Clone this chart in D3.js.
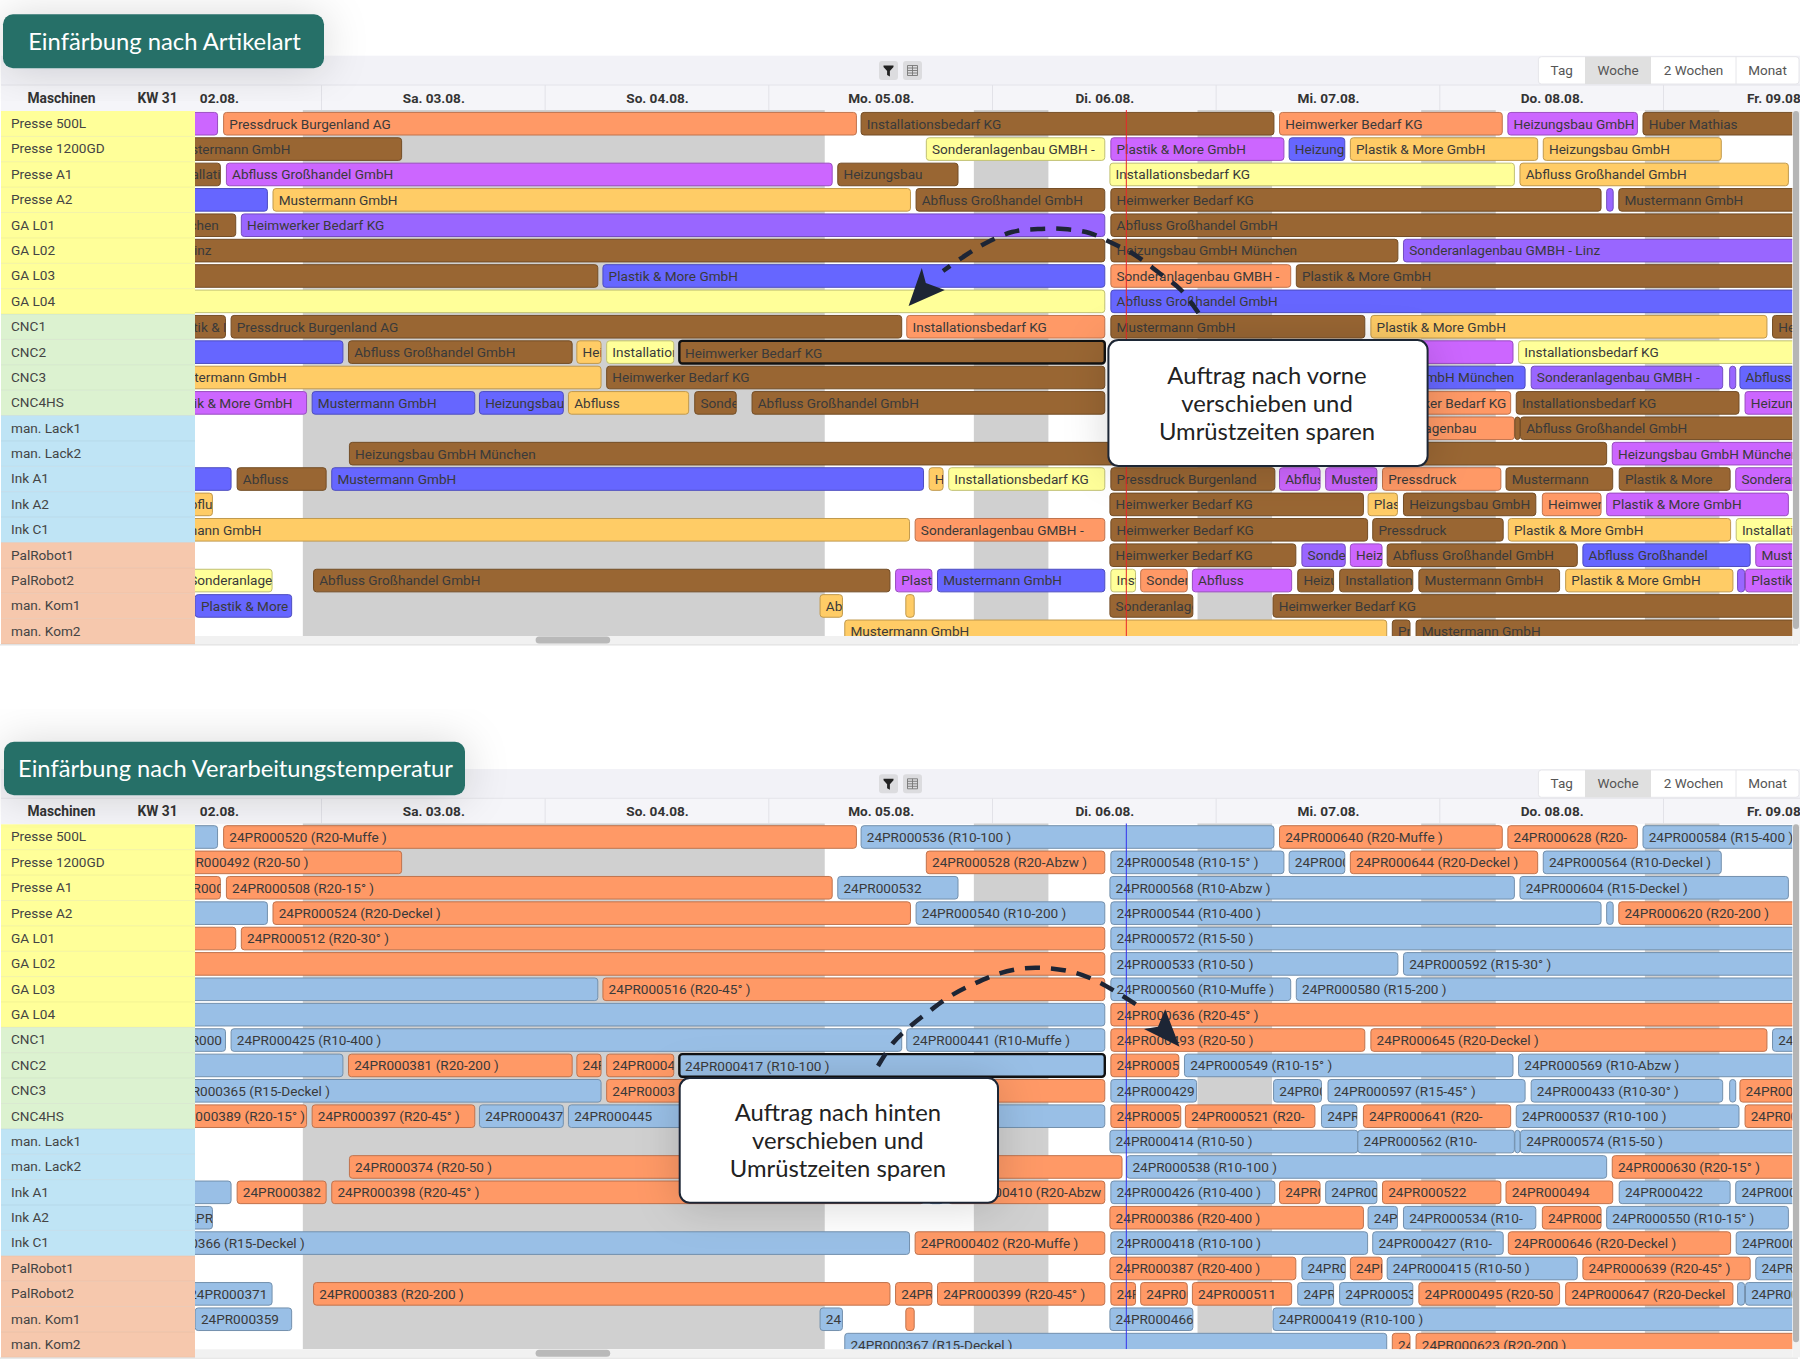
<!DOCTYPE html>
<html lang="de"><head><meta charset="utf-8"><title>Einfärbung</title>
<script src="https://cdn.jsdelivr.net/npm/d3@7/dist/d3.min.js"></script>
<style>html,body{margin:0;padding:0;background:#fff}svg{display:block}text{font-family:Roboto,sans-serif}</style>
</head><body><svg id="c" width="1800" height="1368"></svg>
<script>
const machines=["Presse 500L","Presse 1200GD","Presse A1","Presse A2","GA L01","GA L02","GA L03","GA L04","CNC1","CNC2","CNC3","CNC4HS","man. Lack1","man. Lack2","Ink A1","Ink A2","Ink C1","PalRobot1","PalRobot2","man. Kom1","man. Kom2"];
const machineGroups="y y y y y y y y g g g g l l l l l s s s s".split(" ");
const groupFills={y:"#ffff99",g:"#dcf2d0",l:"#bfe4f5",s:"#f6c8ad"};
const dayLabels=["Fr. 02.08.","Sa. 03.08.","So. 04.08.","Mo. 05.08.","Di. 06.08.","Mi. 07.08.","Do. 08.08.","Fr. 09.08."];
const dayCentres=[12,36,60,84,108,132,156,180];
const dayEdges=[24,48,72,96,120,144,168];
const nonWorking=[[22,78],[94,102],[118,126],[142,150],[166,174]];
const viewButtons=["Tag","Woche","2 Wochen","Monat"];
const kindFills={p:"#cc66ff",o:"#ff9966",n:"#996633",b:"#6666ff",v:"#9966ff",y:"#ffff99",a:"#ffcc66",t:"#99bfe6"};

// start and end of each order, hours since Fr. 02.08. 00:00, one list per machine
const spans=[
[[5,12.85],[13.5,81.4],[81.9,126.2],[126.8,150.7],[151.3,165.2],[165.8,190]],
[[7.3,32.6],[88.9,108.05],[108.7,127.27],[127.83,133.8],[134.4,154.5],[155.1,174.2]],
[[7,13.15],[13.8,78.8],[79.4,92.3],[108.6,152],[152.6,181.4]],
[[5,18.2],[18.8,87.2],[87.8,108.05],[108.7,161.3],[161.9,162.6],[163.2,190]],
[[-7,14.8],[15.4,108.05],[108.7,190]],
[[-8.9,108.05],[108.7,139.5],[140.1,190]],
[[-5,53.65],[54.2,108.05],[108.7,128],[128.6,190]],
[[-5,108.05],[108.7,190]],
[[6.8,13.7],[14.3,86.26],[86.8,108.05],[108.7,135.95],[136.6,179.1],[179.7,190]],
[[5,26.3],[26.9,50.9],[51.4,54],[54.6,61.8],[62.4,108.05],[108.7,116],[116.6,151.85],[152.45,190]],
[[6.9,54],[54.6,108.05],[108.7,117.9],[126.16,131.3],[132,153.15],[153.8,174.35],[175.1,175.75],[176.2,190]],
[[6.4,22.4],[23,40.45],[40.95,49.95],[50.5,63.4],[64.05,68.5],[70.2,108.05],[108.7,116.2],[116.7,130.6],[131.3,135.1],[135.8,151.6],[152.2,176.1],[176.75,190]],
[[108.6,135.2],[135.2,152],[152.05,152.6],[152.65,190]],
[[27,109.9],[110.4,161.9],[162.5,190]],
[[5,14.3],[14.95,24.5],[25.1,88.6],[89.2,90.7],[91.3,108.05],[108.7,126.3],[126.8,131.15],[131.75,137.25],[137.85,150.55],[151.1,162.55],[163.25,175.15],[175.75,190]],
[[8.3,12.3],[108.6,135.8],[136.3,139.45],[140.1,154.3],[155,161.3],[161.9,181.4]],
[[4.2,87.1],[87.7,108.05],[108.7,136.25],[136.8,150.8],[151.35,175.2],[175.8,190]],
[[108.6,128.55],[129.2,133.85],[134.4,137.8],[138.35,158.75],[159.35,177.3],[177.9,190]],
[[9.2,18.7],[23.15,85],[85.6,89.5],[90.1,108.05],[108.7,111.35],[111.9,116.9],[117.45,128.1],[128.75,132.6],[133.25,141.1],[141.75,156.85],[157.5,175.45],[175.95,176.7],[176.8,190]],
[[10.45,20.8],[77.5,79.9],[86.7,87.6],[108.6,117.5],[126.1,190]],
[[80.15,138.3],[138.9,140.8],[141.45,190]]
];
const artikelKinds=["p o n o p n","n y p b a a","n p n y a","b a n n v n","n v n","n n v","n b o n","y b","n n o n a n","b n a y n n p y","a n n n b v v b","p b b a n n n n n o n p","n o n n","n n p","b n b a y n p p o n n p","a n a n o p","a o n n a y","n v p n b p","y n p b y o p n n n a v p","b a a n n","a n n"];
const artikelLabels=[
["","Pressdruck Burgenland AG","Installationsbedarf KG","Heimwerker Bedarf KG","Heizungsbau GmbH","Huber Mathias"],
["Mustermann GmbH","Sonderanlagenbau GMBH -","Plastik & More GmbH","Heizungsbau","Plastik & More GmbH","Heizungsbau GmbH"],
["Installationsbedarf KG","Abfluss Großhandel GmbH","Heizungsbau","Installationsbedarf KG","Abfluss Großhandel GmbH"],
["","Mustermann GmbH","Abfluss Großhandel GmbH","Heimwerker Bedarf KG","","Mustermann GmbH"],
["Heizungsbau GmbH München","Heimwerker Bedarf KG","Abfluss Großhandel GmbH"],
["Sonderanlagenbau GMBH - Linz","Heizungsbau GmbH München","Sonderanlagenbau GMBH - Linz"],
["","Plastik & More GmbH","Sonderanlagenbau GMBH -","Plastik & More GmbH"],
["","Abfluss Großhandel GmbH"],
["Plastik & More GmbH","Pressdruck Burgenland AG","Installationsbedarf KG","Mustermann GmbH","Plastik & More GmbH","Heizungsbau"],
["","Abfluss Großhandel GmbH","Heizungsbau","Installationsbedarf KG","Heimwerker Bedarf KG","","","Installationsbedarf KG"],
["Mustermann GmbH","Heimwerker Bedarf KG","","","Heizungsbau GmbH München","Sonderanlagenbau GMBH -","","Abfluss Großhandel GmbH"],
["Plastik & More GmbH","Mustermann GmbH","Heizungsbau","Abfluss","Sonderanlagenbau","Abfluss Großhandel GmbH","","","","Heimwerker Bedarf KG","Installationsbedarf KG","Heizungsbau"],
["","Sonderanlagenbau","","Abfluss Großhandel GmbH"],
["Heizungsbau GmbH München","","Heizungsbau GmbH München"],
["","Abfluss","Mustermann GmbH","Heizungsbau","Installationsbedarf KG","Pressdruck Burgenland","Abfluss","Mustermann","Pressdruck","Mustermann","Plastik & More","Sonderanlagenbau"],
["Abfluss","Heimwerker Bedarf KG","Plastik","Heizungsbau GmbH","Heimwerker","Plastik & More GmbH"],
["Mustermann GmbH","Sonderanlagenbau GMBH -","Heimwerker Bedarf KG","Pressdruck","Plastik & More GmbH","Installationsbedarf KG"],
["Heimwerker Bedarf KG","Sonderanlagenbau","Heizungsbau","Abfluss Großhandel GmbH","Abfluss Großhandel","Mustermann"],
["Sonderanlagenbau","Abfluss Großhandel GmbH","Plastik","Mustermann GmbH","Installationsbedarf","Sonderanlagenbau","Abfluss","Heizungsbau","Installationsbedarf","Mustermann GmbH","Plastik & More GmbH","","Plastik"],
["Plastik & More","Abfluss","","Sonderanlagenbau","Heimwerker Bedarf KG"],
["Mustermann GmbH","Pressdruck","Mustermann GmbH"]
];
const tempKinds=["t o t o o t","o o t t o t","o o t t t","t o t t t o","o o t","o t t","t o t t","t o","t t t o o t","t o o o t o t t","t o t t t t t o","o o t t t t o o t o t o","t t t t","o t o","t o o t o t o t o o t t","t o t t o t","t o t t o t","o t o t o t","t o o o o o o t t o o t t","t t o t t","t o o"];
const tempLabels=[
["","24PR000520 (R20-Muffe )","24PR000536 (R10-100 )","24PR000640 (R20-Muffe )","24PR000628 (R20-","24PR000584 (R15-400 )"],
["24PR000492 (R20-50 )","24PR000528 (R20-Abzw )","24PR000548 (R10-15° )","24PR000","24PR000644 (R20-Deckel )","24PR000564 (R10-Deckel )"],
["24PR000","24PR000508 (R20-15° )","24PR000532","24PR000568 (R10-Abzw )","24PR000604 (R15-Deckel )"],
["","24PR000524 (R20-Deckel )","24PR000540 (R10-200 )","24PR000544 (R10-400 )","","24PR000620 (R20-200 )"],
["","24PR000512 (R20-30° )","24PR000572 (R15-50 )"],
["","24PR000533 (R10-50 )","24PR000592 (R15-30° )"],
["","24PR000516 (R20-45° )","24PR000560 (R10-Muffe )","24PR000580 (R15-200 )"],
["","24PR000636 (R20-45° )"],
["24PR000","24PR000425 (R10-400 )","24PR000441 (R10-Muffe )","24PR000493 (R20-50 )","24PR000645 (R20-Deckel )","24PR000"],
["","24PR000381 (R20-200 )","24PR000","24PR0004","24PR000417 (R10-100 )","24PR0005","24PR000549 (R10-15° )","24PR000569 (R10-Abzw )"],
["24PR000365 (R15-Deckel )","24PR0003","24PR000429","24PR000","24PR000597 (R15-45° )","24PR000433 (R10-30° )","","24PR000"],
["24PR000389 (R20-15° )","24PR000397 (R20-45° )","24PR000437","24PR000445","","","24PR0005","24PR000521 (R20-","24PR","24PR000641 (R20-","24PR000537 (R10-100 )","24PR000"],
["24PR000414 (R10-50 )","24PR000562 (R10-","","24PR000574 (R15-50 )"],
["24PR000374 (R20-50 )","24PR000538 (R10-100 )","24PR000630 (R20-15° )"],
["","24PR000382","24PR000398 (R20-45° )","","24PR000410 (R20-Abzw )","24PR000426 (R10-400 )","24PR000","24PR000","24PR000522","24PR000494","24PR000422","24PR000"],
["24PR000","24PR000386 (R20-400 )","24PR","24PR000534 (R10-","24PR000","24PR000550 (R10-15° )"],
["24PR000366 (R15-Deckel )","24PR000402 (R20-Muffe )","24PR000418 (R10-100 )","24PR000427 (R10-","24PR000646 (R20-Deckel )","24PR000"],
["24PR000387 (R20-400 )","24PR000","24PR","24PR000415 (R10-50 )","24PR000639 (R20-45° )","24PR"],
["24PR000371","24PR000383 (R20-200 )","24PR000","24PR000399 (R20-45° )","24PR","24PR000","24PR000511","24PR","24PR00053","24PR000495 (R20-50","24PR000647 (R20-Deckel","","24PR000"],
["24PR000359","24","","24PR000466","24PR000419 (R10-100 )"],
["24PR000367 (R15-Deckel )","24PR","24PR000623 (R20-200 )"]
];
const selectedOrder={row:9,index:4};

const svg=d3.select("#c");
const defs=svg.append("defs");
const sh=defs.append("filter").attr("id","soft").attr("x","-30%").attr("y","-60%").attr("width","160%").attr("height","220%");
sh.append("feDropShadow").attr("dx",0).attr("dy",2).attr("stdDeviation",22).attr("flood-color","#000").attr("flood-opacity",.16);

const x=d3.scaleLinear().domain([0,168]).range([97.8,1663.5]);
const dark="#1d2535";

function chart(id,dy,labels,kinds,now,arrowPath,headPath,calloutBox,calloutLines,title,titleBox,titleSize){
  const g=svg.append("g").attr("transform",`translate(0,${dy})`);
  const y=d3.scaleBand().domain(machines).range([111,644]);
  g.append("rect").attr("x",1).attr("y",55.7).attr("width",1799).attr("height",29.3).attr("fill","#f2f2f7");
  g.append("rect").attr("x",1).attr("y",85).attr("width",1799).attr("height",26).attr("fill","#f5f5f9");
  g.append("line").attr("x1",1).attr("x2",1800).attr("y1",85).attr("y2",85).attr("stroke","#e4e4ea");
  g.append("rect").attr("x",1).attr("y",111).attr("width",1799).attr("height",534.5).attr("fill","#fff");
  g.append("rect").attr("x",0).attr("y",644).attr("width",1798).attr("height",1.6).attr("fill","#e6e6e6");

  const cid="clip"+id;
  defs.append("clipPath").attr("id",cid).append("rect").attr("x",195).attr("y",110).attr("width",1597.5).attr("height",526);
  const hid="hclip"+id;
  defs.append("clipPath").attr("id",hid).append("rect").attr("x",198.5).attr("y",85).attr("width",1601.5).attr("height",26);

  const head=g.append("g").attr("clip-path",`url(#${hid})`);
  head.selectAll("line.edge").data(dayEdges).join("line").attr("class","edge")
    .attr("x1",d=>x(d)).attr("x2",d=>x(d)).attr("y1",85).attr("y2",110).attr("stroke","#e2e2e8");
  const ax=d3.axisTop(x).tickValues(dayCentres).tickFormat((d,i)=>dayLabels[i]).tickSize(0).tickPadding(0);
  const axG=head.append("g").attr("transform","translate(0,103)").call(ax);
  axG.select(".domain").remove();
  axG.selectAll("text").attr("font-size",13.6).attr("font-weight",700).attr("fill","#333").attr("font-family","Roboto,sans-serif");
  g.append("text").attr("x",61.5).attr("y",102.5).attr("text-anchor","middle").attr("font-size",13.8).attr("font-weight",700).attr("fill","#333").text("Maschinen");
  g.append("text").attr("x",157.5).attr("y",102.5).attr("text-anchor","middle").attr("font-size",13.8).attr("font-weight",700).attr("fill","#333").text("KW 31");

  g.selectAll("rect.m").data(machines).join("rect").attr("class","m").attr("x",1).attr("y",d=>y(d))
    .attr("width",194).attr("height",y.bandwidth()).attr("fill",(d,i)=>groupFills[machineGroups[i]]);
  g.selectAll("line.m").data(machines).join("line").attr("class","m").attr("x1",1).attr("x2",195)
    .attr("y1",d=>y(d)+y.bandwidth()).attr("y2",d=>y(d)+y.bandwidth()).attr("stroke","#000").attr("stroke-opacity",.05);
  g.selectAll("text.m").data(machines).join("text").attr("class","m").attr("x",11).attr("y",d=>y(d)+y.bandwidth()/2+4.4)
    .attr("font-size",13.6).attr("fill","#444").text(d=>d);

  const area=g.append("g").attr("clip-path",`url(#${cid})`);
  area.selectAll("rect.off").data(nonWorking).join("rect").attr("class","off")
    .attr("x",d=>x(d[0])).attr("width",d=>x(d[1])-x(d[0])).attr("y",110).attr("height",526).attr("fill","#d0d0d0");

  const bars=[];
  spans.forEach((row,r)=>{
    const ks=kinds[r].split(" ");
    row.forEach((s,i)=>bars.push({r,i,s:s[0],e:s[1],k:ks[i],label:labels[r][i]}));
  });
  const isSel=d=>d.r===selectedOrder.row&&d.i===selectedOrder.index;
  const b=area.selectAll("g.bar").data(bars).join("g").attr("class","bar")
    .attr("transform",d=>`translate(${x(d.s)},${y(machines[d.r])+1.4})`);
  b.append("rect").attr("width",d=>Math.max(1,x(d.e)-x(d.s))).attr("height",22.6).attr("rx",3)
    .attr("fill",d=>kindFills[d.k])
    .attr("stroke",d=>isSel(d)?"#111":d3.color(kindFills[d.k]).darker(.8))
    .attr("stroke-width",d=>isSel(d)?2.4:1);
  b.append("svg").attr("width",d=>Math.max(1,x(d.e)-x(d.s))).attr("height",22.6)
    .append("text").attr("x",5.7).attr("y",d=>isSel(d)?16.9:16.2).attr("font-size",13.6).attr("fill","#3a3a3a").text(d=>d.label);

  area.append("line").attr("x1",x(110.36)).attr("x2",x(110.36)).attr("y1",110).attr("y2",636).attr("stroke",now).attr("stroke-width",1);

  g.append("rect").attr("x",195).attr("y",636).attr("width",1597.5).attr("height",8).attr("fill","#f1f1f1");
  g.append("rect").attr("x",535.6).attr("y",636.5).attr("width",74.6).attr("height",7).attr("rx",3.5).attr("fill","#b9b9b9");
  g.append("rect").attr("x",1792.5).attr("y",111).attr("width",7.5).attr("height",533).attr("fill","#f1f1f1");
  g.append("rect").attr("x",1793).attr("y",111).attr("width",6).attr("height",518).attr("rx",3).attr("fill","#b5b5b5");

  [879,903].forEach((ix,n)=>{
    g.append("rect").attr("x",ix).attr("y",61).attr("width",19).attr("height",19).attr("rx",3).attr("fill","#dcdcdf");
    if(n===0) g.append("path").attr("transform",`translate(${ix},61)`).attr("d","M4.5 4.5h10v1.5l-3.6 4v5.5l-2.8-1.6v-3.9L4.5 6z").attr("fill","#222");
    else g.append("path").attr("transform",`translate(${ix},61)`).attr("d","M4.5 4.5h10v10h-10zM4.5 9.5h10M9.5 4.5v10M4.5 7h10M4.5 12h10").attr("fill","none").attr("stroke","#777").attr("stroke-width",.9);
  });
  const btnEdges=[1538.4,1585,1651,1736,1799];
  g.append("rect").attr("x",1538.4).attr("y",56.7).attr("width",260.6).attr("height",27.3).attr("rx",3).attr("fill","#fff").attr("stroke","#e6e6ea");
  g.append("rect").attr("x",btnEdges[1]).attr("y",56.7).attr("width",btnEdges[2]-btnEdges[1]).attr("height",27.3).attr("fill","#e0e0e0");
  g.append("line").attr("x1",btnEdges[3]).attr("x2",btnEdges[3]).attr("y1",56.7).attr("y2",84).attr("stroke","#e6e6ea");
  viewButtons.forEach((t,i)=>g.append("text").attr("x",(btnEdges[i]+btnEdges[i+1])/2).attr("y",74.5).attr("text-anchor","middle").attr("font-size",13.5).attr("fill","#555").text(t));

  g.append("rect").attr("x",titleBox[0]).attr("y",titleBox[1]).attr("width",titleBox[2]).attr("height",titleBox[3]).attr("rx",10).attr("fill","#286f68").attr("filter","url(#soft)");
  g.append("text").attr("x",titleBox[0]+titleBox[2]/2+1).attr("y",titleBox[1]+titleBox[3]/2+8.3).attr("text-anchor","middle").style("font-family","Lato,sans-serif").attr("font-size",titleSize).attr("fill","#fff").text(title);

  g.append("rect").attr("x",calloutBox[0]).attr("y",calloutBox[1]).attr("width",calloutBox[2]).attr("height",calloutBox[3]).attr("rx",10).attr("fill","#fff").attr("stroke",dark).attr("stroke-width",2).attr("filter","url(#soft)");
  calloutLines.forEach((t,i)=>g.append("text").attr("x",calloutBox[0]+calloutBox[2]/2-1).attr("y",calloutBox[1]+43.5+i*28).attr("text-anchor","middle").style("font-family","Lato,sans-serif").attr("font-size",23.8).attr("fill","#222").text(t));
  g.append("path").attr("d",arrowPath).attr("fill","none").attr("stroke",dark).attr("stroke-width",4.5).attr("stroke-dasharray","15 11");
  g.append("path").attr("d",headPath).attr("fill",dark);
}

const curve=d3.line().curve(d3.curveCatmullRom);
chart("a",0,artikelLabels,artikelKinds,"#e8262a",
  curve([[1198.5,313],[1181,290],[1158,272],[1135,255],[1112,243],[1089.5,233],[1063.6,229],[1037.8,229],[1012,232],[986,243],[966,255],[943,271]]),
  "M908.6 306L921.8 268L925.8 283L944.8 290Z",
  [1108.4,340,319.2,126],["Auftrag nach vorne","verschieben und","Umrüstzeiten sparen"],
  "Einfärbung nach Artikelart",[3,14.3,321,54],23.8);
chart("b",713.3,tempLabels,tempKinds,"#3333ee",
  curve([[878,352.7],[893,329.7],[908.6,314.4],[928.7,298.4],[950.5,282.7],[973.5,270.7],[997.6,260.7],[1023.4,255],[1049.3,255],[1075,259.4],[1098,268.4],[1121,281.7],[1144,296]]),
  "M1179.6 333.4L1144 315.7L1158 313.4L1165.2 296Z",
  [679.7,364.7,318.3,124.7],["Auftrag nach hinten","verschieben und","Umrüstzeiten sparen"],
  "Einfärbung nach Verarbeitungstemperatur",[4,28.4,461,53.6],23.7);
</script></body></html>
